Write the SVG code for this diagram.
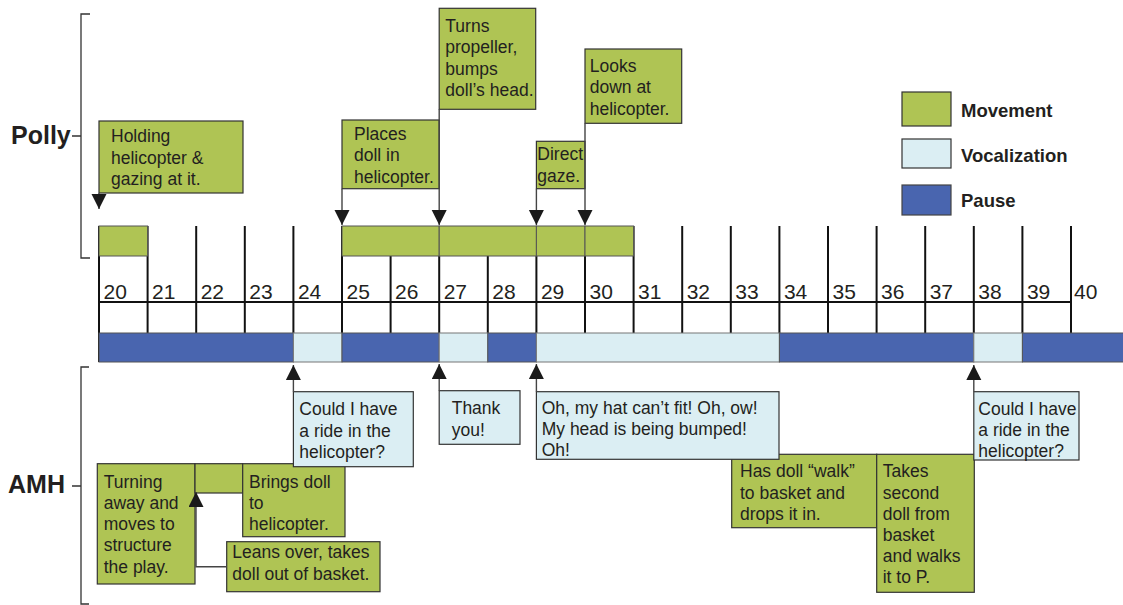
<svg xmlns="http://www.w3.org/2000/svg" width="1123" height="605" viewBox="0 0 1123 605">
<style>
.mv{fill:#AFC454;stroke:#333;stroke-width:1.2}
.vc{fill:#DBEEF3;stroke:#333;stroke-width:1.2}
.ps{fill:#4965AF;stroke:#444;stroke-width:1.2}
.bar-mv{fill:#AFC454;stroke:#555;stroke-width:1}
.bar-vc{fill:#DBEEF3;stroke:#777;stroke-width:1}
.bar-ps{fill:#4965AF;stroke:#555;stroke-width:1}
.tick{stroke:#111;stroke-width:2}
.t{font-family:"Liberation Sans",Arial,sans-serif;font-size:17.5px;fill:#231F20}
.num{font-family:"Liberation Sans",Arial,sans-serif;font-size:21px;fill:#231F20}
.lbl{font-family:"Liberation Sans",Arial,sans-serif;font-size:25px;font-weight:bold;fill:#231F20}
.leg{font-family:"Liberation Sans",Arial,sans-serif;font-size:18.5px;font-weight:bold;fill:#231F20}
.br{fill:none;stroke:#333;stroke-width:1.3}
.con{fill:none;stroke:#444;stroke-width:1.4}
</style>
<defs>
<marker id="ah" markerUnits="userSpaceOnUse" markerWidth="16" markerHeight="16" refX="15" refY="7.5" orient="auto">
<path d="M0,0 L15,7.5 L0,15 z" fill="#1a1a1a"/>
</marker>
</defs>

<g id="brackets">
<text class="lbl" x="11" y="144">Polly</text>
<path class="br" d="M72,136 H81 M90,14 H81 V258 H90"/>
<text class="lbl" x="8" y="493">AMH</text>
<path class="br" d="M72,486 H81 M89,367 H81 V604 H89"/>
</g>

<g id="legend">
<rect class="mv" x="902" y="92" width="49" height="34"/>
<text class="leg" x="961" y="117">Movement</text>
<rect class="vc" x="902" y="139" width="49" height="29"/>
<text class="leg" x="961" y="162">Vocalization</text>
<rect class="ps" x="902" y="185" width="49" height="30"/>
<text class="leg" x="961" y="207">Pause</text>
</g>

<g id="timeline">
<g id="ticks">
<line class="tick" x1="99" y1="226" x2="99" y2="362"/>
<line class="tick" x1="147.6" y1="226" x2="147.6" y2="333"/>
<line class="tick" x1="196.2" y1="226" x2="196.2" y2="333"/>
<line class="tick" x1="244.8" y1="226" x2="244.8" y2="333"/>
<line class="tick" x1="293.4" y1="226" x2="293.4" y2="333"/>
<line class="tick" x1="342" y1="226" x2="342" y2="333"/>
<line class="tick" x1="390.6" y1="226" x2="390.6" y2="333"/>
<line class="tick" x1="439.2" y1="226" x2="439.2" y2="333"/>
<line class="tick" x1="487.8" y1="226" x2="487.8" y2="333"/>
<line class="tick" x1="536.4" y1="226" x2="536.4" y2="333"/>
<line class="tick" x1="585" y1="226" x2="585" y2="333"/>
<line class="tick" x1="633.6" y1="226" x2="633.6" y2="333"/>
<line class="tick" x1="682.2" y1="226" x2="682.2" y2="333"/>
<line class="tick" x1="730.8" y1="226" x2="730.8" y2="333"/>
<line class="tick" x1="779.4" y1="226" x2="779.4" y2="333"/>
<line class="tick" x1="828" y1="226" x2="828" y2="333"/>
<line class="tick" x1="876.6" y1="226" x2="876.6" y2="333"/>
<line class="tick" x1="925.2" y1="226" x2="925.2" y2="333"/>
<line class="tick" x1="973.8" y1="226" x2="973.8" y2="333"/>
<line class="tick" x1="1022.4" y1="226" x2="1022.4" y2="333"/>
<line class="tick" x1="1071" y1="226" x2="1071" y2="333"/>
<line class="tick" x1="99" y1="302" x2="1072" y2="302"/>
</g>
<g id="numbers" class="num">
<text x="103.5" y="298.5">20</text>
<text x="152.1" y="298.5">21</text>
<text x="200.7" y="298.5">22</text>
<text x="249.3" y="298.5">23</text>
<text x="297.9" y="298.5">24</text>
<text x="346.5" y="298.5">25</text>
<text x="395.1" y="298.5">26</text>
<text x="443.7" y="298.5">27</text>
<text x="492.3" y="298.5">28</text>
<text x="540.9" y="298.5">29</text>
<text x="589.5" y="298.5">30</text>
<text x="638.1" y="298.5">31</text>
<text x="686.7" y="298.5">32</text>
<text x="735.3" y="298.5">33</text>
<text x="783.9" y="298.5">34</text>
<text x="832.5" y="298.5">35</text>
<text x="881.1" y="298.5">36</text>
<text x="929.7" y="298.5">37</text>
<text x="978.3" y="298.5">38</text>
<text x="1026.9" y="298.5">39</text>
<text x="1074" y="298.5">40</text>
</g>
<g id="polly-bars">
<rect class="bar-mv" x="99" y="226" width="48.6" height="30"/>
<rect class="bar-mv" x="342" y="226" width="97.2" height="30"/>
<rect class="bar-mv" x="439.2" y="226" width="97.2" height="30"/>
<rect class="bar-mv" x="536.4" y="226" width="48.6" height="30"/>
<rect class="bar-mv" x="585" y="226" width="48.6" height="30"/>
</g>
<g id="amh-bars">
<rect class="bar-ps" x="99" y="333" width="194.4" height="29"/>
<rect class="bar-vc" x="293.4" y="333" width="48.6" height="29"/>
<rect class="bar-ps" x="342" y="333" width="97.2" height="29"/>
<rect class="bar-vc" x="439.2" y="333" width="48.6" height="29"/>
<rect class="bar-ps" x="487.8" y="333" width="48.6" height="29"/>
<rect class="bar-vc" x="536.4" y="333" width="243" height="29"/>
<rect class="bar-ps" x="779.4" y="333" width="194.4" height="29"/>
<rect class="bar-vc" x="973.8" y="333" width="48.6" height="29"/>
<rect class="bar-ps" x="1022.4" y="333" width="102" height="29"/>
</g>
</g>

<g id="polly-holding">
<rect class="mv" x="99" y="121" width="144" height="72"/>
<text class="t"><tspan x="111" y="142">Holding</tspan><tspan x="111" y="163.5">helicopter &amp;</tspan><tspan x="111" y="185">gazing at it.</tspan></text>
</g>
<g id="polly-places">
<rect class="mv" x="342" y="120" width="97.2" height="68.7"/>
<text class="t"><tspan x="354" y="139.5">Places</tspan><tspan x="354" y="161">doll in</tspan><tspan x="354" y="182.5">helicopter.</tspan></text>
</g>
<g id="polly-turns">
<rect class="mv" x="439.2" y="8.3" width="96.5" height="101"/>
<text class="t"><tspan x="445.3" y="31.5">Turns</tspan><tspan x="445.3" y="53">propeller,</tspan><tspan x="445.3" y="74.5">bumps</tspan><tspan x="445.3" y="96">doll’s head.</tspan></text>
</g>
<g id="polly-direct">
<rect class="mv" x="536.4" y="141.3" width="48.6" height="47.4"/>
<text class="t"><tspan x="537.3" y="160">Direct</tspan><tspan x="537.3" y="181.5">gaze.</tspan></text>
</g>
<g id="polly-looks">
<rect class="mv" x="585" y="49" width="96.7" height="74.3"/>
<text class="t"><tspan x="589.7" y="71.5">Looks</tspan><tspan x="589.7" y="93">down at</tspan><tspan x="589.7" y="114.5">helicopter.</tspan></text>
</g>

<g id="amh-turning">
<rect class="mv" x="97.3" y="463.7" width="97.7" height="120.3"/>
<text class="t"><tspan x="103.7" y="487.7">Turning</tspan><tspan x="103.7" y="509">away and</tspan><tspan x="103.7" y="530.2">moves to</tspan><tspan x="103.7" y="551.4">structure</tspan><tspan x="103.7" y="572.6">the play.</tspan></text>
</g>
<g id="amh-link">
<rect class="mv" x="195" y="463.7" width="47.7" height="29.3"/>
</g>
<g id="amh-brings">
<rect class="mv" x="242.7" y="463.7" width="102.3" height="73"/>
<text class="t"><tspan x="249" y="487.7">Brings doll</tspan><tspan x="249" y="509">to</tspan><tspan x="249" y="530.2">helicopter.</tspan></text>
</g>
<g id="amh-leans">
<rect class="mv" x="226.7" y="541.7" width="153.3" height="50"/>
<text class="t"><tspan x="232.3" y="558">Leans over, takes</tspan><tspan x="232.3" y="579.5">doll out of basket.</tspan></text>
</g>
<g id="amh-could1">
<rect class="vc" x="293.4" y="391.7" width="119.9" height="75"/>
<text class="t"><tspan x="299.3" y="415">Could I have</tspan><tspan x="299.3" y="436.5">a ride in the</tspan><tspan x="299.3" y="458">helicopter?</tspan></text>
</g>
<g id="amh-thank">
<rect class="vc" x="439.2" y="390.7" width="80.8" height="53.6"/>
<text class="t"><tspan x="451.7" y="414">Thank</tspan><tspan x="451.7" y="435.5">you!</tspan></text>
</g>
<g id="amh-walk">
<rect class="mv" x="731.7" y="454.3" width="145" height="73.4"/>
<text class="t"><tspan x="740" y="477.3">Has doll “walk”</tspan><tspan x="740" y="498.5">to basket and</tspan><tspan x="740" y="519.7">drops it in.</tspan></text>
</g>
<g id="amh-takes">
<rect class="mv" x="876.7" y="454.3" width="97.6" height="138"/>
<text class="t"><tspan x="882.7" y="477.3">Takes</tspan><tspan x="882.7" y="498.5">second</tspan><tspan x="882.7" y="519.7">doll from</tspan><tspan x="882.7" y="541">basket</tspan><tspan x="882.7" y="562.2">and walks</tspan><tspan x="882.7" y="583.4">it to P.</tspan></text>
</g>
<g id="amh-oh">
<rect class="vc" x="536.4" y="391.7" width="242.6" height="67.6"/>
<text class="t"><tspan x="541.7" y="414">Oh, my hat can’t fit! Oh, ow!</tspan><tspan x="541.7" y="435.2">My head is being bumped!</tspan><tspan x="541.7" y="456.4">Oh!</tspan></text>
</g>
<g id="amh-could2">
<rect class="vc" x="973.8" y="391.7" width="105.2" height="68.3"/>
<text class="t"><tspan x="978.3" y="415">Could I have</tspan><tspan x="978.3" y="436.2">a ride in the</tspan><tspan x="978.3" y="457.4">helicopter?</tspan></text>
</g>

<g id="connectors">
<line class="con" x1="99" y1="193" x2="99" y2="209" marker-end="url(#ah)"/>
<line class="con" x1="342" y1="188.7" x2="342" y2="225" marker-end="url(#ah)"/>
<line class="con" x1="439.2" y1="109.3" x2="439.2" y2="225" marker-end="url(#ah)"/>
<line class="con" x1="536.4" y1="188.7" x2="536.4" y2="225" marker-end="url(#ah)"/>
<line class="con" x1="585" y1="123.3" x2="585" y2="225" marker-end="url(#ah)"/>
<line class="con" x1="293.4" y1="391.7" x2="293.4" y2="365" marker-end="url(#ah)"/>
<line class="con" x1="439.2" y1="390.7" x2="439.2" y2="364" marker-end="url(#ah)"/>
<line class="con" x1="536.4" y1="391.7" x2="536.4" y2="364" marker-end="url(#ah)"/>
<line class="con" x1="973.8" y1="391.7" x2="973.8" y2="365" marker-end="url(#ah)"/>
<polyline class="con" points="226.7,566.7 196,566.7 196,492" marker-end="url(#ah)"/>
</g>
</svg>
